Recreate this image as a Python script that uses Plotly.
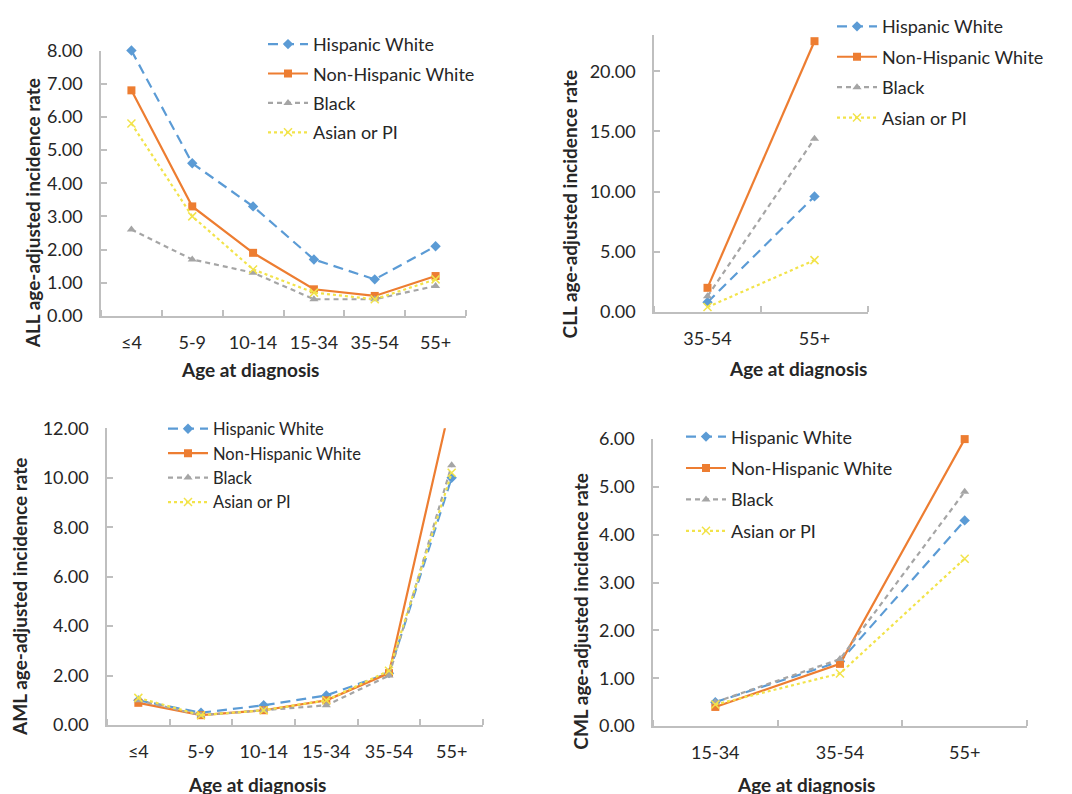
import plotly.graph_objects as go

W, H = 1072, 794
OFF = 8  # page body margin offset compensation

# ---------------- data ----------------
series_names = ["Hispanic White", "Non-Hispanic White", "Black", "Asian or PI"]

all_cats = ["≤4", "5-9", "10-14", "15-34", "35-54", "55+"]
all_hw = [8.0, 4.6, 3.3, 1.7, 1.1, 2.1]
all_nhw = [6.8, 3.3, 1.9, 0.8, 0.6, 1.2]
all_black = [2.6, 1.7, 1.3, 0.5, 0.5, 0.9]
all_asian = [5.8, 3.0, 1.4, 0.7, 0.5, 1.1]

cll_cats = ["35-54", "55+"]
cll_hw = [0.8, 9.6]
cll_nhw = [2.0, 22.5]
cll_black = [1.3, 14.4]
cll_asian = [0.4, 4.3]

aml_cats = ["≤4", "5-9", "10-14", "15-34", "35-54", "55+"]
aml_hw = [1.0, 0.5, 0.8, 1.2, 2.1, 10.0]
aml_nhw = [0.9, 0.4, 0.6, 1.0, 2.1, 13.2]
aml_black = [1.0, 0.4, 0.6, 0.8, 2.0, 10.5]
aml_asian = [1.1, 0.4, 0.6, 1.0, 2.2, 10.2]

cml_cats = ["15-34", "35-54", "55+"]
cml_hw = [0.5, 1.35, 4.3]
cml_nhw = [0.4, 1.3, 6.0]
cml_black = [0.5, 1.4, 4.9]
cml_asian = [0.45, 1.1, 3.5]

# ---------------- styles ----------------
FONT = "Lato"
TXT = "#262626"
AX = "#BFBFBF"
styles = [
    dict(color="#5B9BD5", dash="10px,6px", symbol="diamond", size=8, width=2.2),
    dict(color="#ED7D31", dash="solid", symbol="square", size=8, width=2.2),
    dict(color="#A5A5A5", dash="5px,4px", symbol="triangle-up", size=8, width=2.2),
    dict(color="#F2E34A", dash="dot", symbol="x-thin", size=8, width=2.2),
]

def px_x(p):
    return (p - OFF) / W

def px_y(p):
    return 1 - (p - OFF) / H

T = -5  # top-row vertical correction
panels = [
    dict(cats=all_cats, vals=[all_hw, all_nhw, all_black, all_asian],
         x0=101, x1=466, ybot=314 + T, ytop=45 + T, yr=[0, 8], dtick=1,
         ytitle="ALL age-adjusted incidence rate", ytx=32, yty=210 + T,
         xtx=250, xty=368 + T, leg=(263, 20 + T), gap=3, lfs=18, clip=False),
    dict(cats=cll_cats, vals=[cll_hw, cll_nhw, cll_black, cll_asian],
         x0=654, x1=868, ybot=310 + T, ytop=29.4 + T, yr=[0, 23], dtick=5,
         ytitle="CLL age-adjusted incidence rate", ytx=569, yty=201 + T,
         xtx=798, xty=367 + T, leg=(832, 2 + T), gap=4, lfs=18, clip=False),
    dict(cats=aml_cats, vals=[aml_hw, aml_nhw, aml_black, aml_asian],
         x0=107, x1=483, ybot=724, ytop=423, yr=[0, 12], dtick=2,
         ytitle="AML age-adjusted incidence rate", ytx=20, yty=594,
         xtx=257, xty=784, leg=(163, 406), gap=0, lfs=16.5, clip=True),
    dict(cats=cml_cats, vals=[cml_hw, cml_nhw, cml_black, cml_asian],
         x0=653, x1=1027, ybot=725, ytop=434, yr=[0, 6], dtick=1,
         ytitle="CML age-adjusted incidence rate", ytx=581, yty=609,
         xtx=806, xty=784, leg=(681, 413), gap=5, lfs=18, clip=False),
]

fig = go.Figure()
layout = {}
annotations = []

for i, p in enumerate(panels):
    k = "" if i == 0 else str(i + 1)
    legname = "legend" + k
    for j, name in enumerate(series_names):
        s = styles[j]
        fig.add_trace(go.Scatter(
            x=list(range(len(p["cats"]))), y=p["vals"][j], name=name,
            mode="lines+markers",
            line=dict(color=s["color"], dash=s["dash"], width=s["width"]),
            marker=dict(symbol=s["symbol"], size=s["size"], color=s["color"],
                        line=dict(color=s["color"], width=1.5 if s["symbol"] == "x-thin" else 0)),
            xaxis="x" + k, yaxis="y" + k, legend=legname, legendgroup=f"g{i}_{j}",
            cliponaxis=p["clip"],
        ))
    n = len(p["cats"])
    layout["xaxis" + k] = dict(
        domain=[px_x(p["x0"]), px_x(p["x1"])], anchor="y" + k,
        range=[-0.5, n - 0.5], tickmode="array",
        tickvals=list(range(n)), ticktext=p["cats"], automargin=False,
        showline=True, linecolor=AX, linewidth=1.5, showgrid=False, zeroline=False,
        ticks="", tickfont=dict(family=FONT, size=18, color=TXT), ticklabelstandoff=10,
        minor=dict(tickmode="array", tickvals=[v - 0.5 for v in range(n + 1)],
                   ticks="inside", ticklen=6, tickcolor=AX, tickwidth=1.5),
    )
    layout["yaxis" + k] = dict(
        domain=[px_y(p["ybot"]), px_y(p["ytop"])], anchor="x" + k,
        range=p["yr"], dtick=p["dtick"], tick0=0, tickformat=".2f", automargin=False,
        showline=True, linecolor=AX, linewidth=1.5, showgrid=False, zeroline=False,
        ticks="inside", ticklen=6, tickcolor=AX, tickwidth=1.5,
        tickfont=dict(family=FONT, size=18, color=TXT), ticklabelstandoff=13,
    )
    layout[legname] = dict(
        x=px_x(p["leg"][0]), y=px_y(p["leg"][1]), xanchor="left", yanchor="top",
        bgcolor="rgba(0,0,0,0)", borderwidth=0,
        font=dict(family=FONT, size=p["lfs"], color=TXT),
        tracegroupgap=p["gap"], traceorder="grouped", itemwidth=40,
    )
    annotations.append(dict(
        text="<b>" + p["ytitle"] + "</b>", x=px_x(p["ytx"]), y=px_y(p["yty"]),
        xref="paper", yref="paper", showarrow=False, textangle=-90,
        xanchor="center", yanchor="middle",
        font=dict(family=FONT, size=19, color=TXT),
    ))
    annotations.append(dict(
        text="<b>Age at diagnosis</b>", x=px_x(p["xtx"]), y=px_y(p["xty"]),
        xref="paper", yref="paper", showarrow=False,
        xanchor="center", yanchor="middle",
        font=dict(family=FONT, size=19, color=TXT),
    ))

fig.update_layout(
    width=W, height=H, margin=dict(l=0, r=0, t=0, b=0),
    paper_bgcolor="white", plot_bgcolor="white",
    annotations=annotations, **layout,
)

fig.write_html("out.html")
